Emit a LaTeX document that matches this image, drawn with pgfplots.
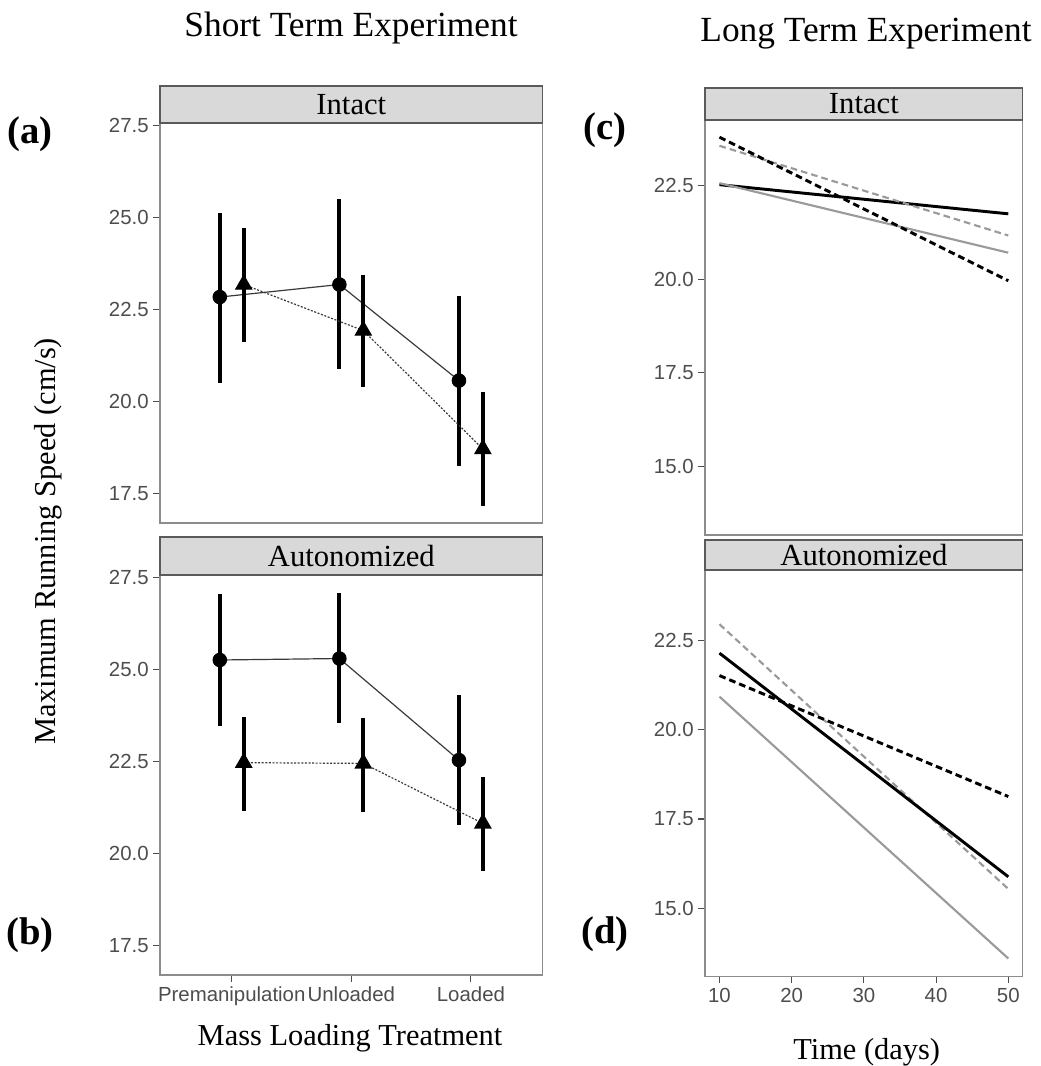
\documentclass[border=0pt]{standalone}
\usepackage{fontspec}
\setmainfont{Liberation Serif}
\newfontfamily\sansf{Liberation Sans}
\usepackage{pgfplots}
\usepackage{pgfplotstable}
\pgfplotsset{compat=1.18}

\definecolor{tickgrey}{HTML}{4D4D4D}
\definecolor{bordergrey}{HTML}{8C8C8C}
\definecolor{stripfill}{HTML}{D9D9D9}
\definecolor{stripline}{HTML}{5A5A5A}
\definecolor{linegrey}{HTML}{9A9A9A}
\definecolor{joingrey}{HTML}{3A3A3A}

% short term: x = dodged category position, y = mean, ep/em = bar above/below
\pgfplotstableread{
x   y     ep   em
0.9 22.83 2.29 2.34
1.9 23.17 2.32 2.29
2.9 20.56 2.29 2.32
}\intactcirc
\pgfplotstableread{
x   y     ep   em
1.1 23.17 1.54 1.57
2.1 21.92 1.52 1.54
3.1 18.70 1.54 1.54
}\intacttri
\pgfplotstableread{
x   y     ep   em
0.9 25.25 1.78 1.79
1.9 25.29 1.77 1.76
2.9 22.53 1.78 1.76
}\autocirc
\pgfplotstableread{
x   y     ep   em
1.1 22.46 1.25 1.31
2.1 22.44 1.23 1.32
3.1 20.81 1.26 1.30
}\autotri

\pgfplotsset{
  panel/.style={
    anchor=south west, scale only axis,
    axis line style={draw=bordergrey, line width=0.8pt},
    major tick style={draw=tickgrey, line width=0.8pt},
    tick align=outside, major tick length=5pt,
    ytick pos=left, xtick pos=bottom,
    tick label style={font=\sansf\fontsize{15.3}{17}\selectfont, text=tickgrey},
    /pgf/number format/assume math mode=true,
    yticklabel style={/pgf/number format/.cd, fixed, fixed zerofill, precision=1},
  },
  shortpanel/.style={panel, width=287pt, height=300pt,
    xmin=0.4, xmax=3.6, ymin=16.69, ymax=27.56,
    ytick={17.5,20,22.5,25,27.5}},
  longpanel/.style={panel, width=238.3pt,
    xmin=8, xmax=52, ytick={15,17.5,20,22.5}},
  circ/.style={joingrey, line width=0.9pt, mark=*, mark size=5pt,
    mark options={solid, fill=black, draw=black},
    error bars/.cd, y dir=both, y explicit, error mark=none,
    error bar style={solid, black, line width=3pt}},
  tri/.style={joingrey, line width=0.9pt, dash pattern=on 1.5pt off 1.2pt,
    mark=triangle*, mark size=6.8pt,
    mark options={solid, fill=black, draw=black},
    error bars/.cd, y dir=both, y explicit, error mark=none,
    error bar style={solid, black, line width=3pt}},
  blk/.style={black, line width=2.2pt},
  gry/.style={linegrey, line width=1.6pt},
  dsh/.style={dash pattern=on 5pt off 3pt},
}

\begin{document}
\begin{tikzpicture}
\path[use as bounding box] (0,0) rectangle (780.75pt,799.5pt);

% (a) short term, intact
\begin{axis}[shortpanel, name=a, at={(120pt,407.25pt)}, xtick=\empty]
\addplot[circ] table[x=x, y=y, y error plus=ep, y error minus=em] {\intactcirc};
\addplot[tri] table[x=x, y=y, y error plus=ep, y error minus=em] {\intacttri};
\end{axis}
\draw[draw=stripline, line width=0.8pt, fill=stripfill] (a.north west) rectangle ([yshift=27.75pt]a.north east);
\node[font=\fontsize{23}{26}\selectfont] at ([yshift=13.9pt]a.north) {Intact};

% (b) short term, autonomized
\begin{axis}[shortpanel, name=b, at={(120pt,68.25pt)},
  xtick={1,2,3}, xticklabels={Premanipulation,Unloaded,Loaded}]
\addplot[circ] table[x=x, y=y, y error plus=ep, y error minus=em] {\autocirc};
\addplot[tri] table[x=x, y=y, y error plus=ep, y error minus=em] {\autotri};
\end{axis}
\draw[draw=stripline, line width=0.8pt, fill=stripfill] (b.north west) rectangle ([yshift=28.5pt]b.north east);
\node[font=\fontsize{23}{26}\selectfont] at ([yshift=14.25pt]b.north) {Autonomized};

% (c) long term, intact
\begin{axis}[longpanel, name=c, at={(528.75pt,398.25pt)}, height=311.25pt,
  ymin=13.16, ymax=24.26, xtick=\empty]
\addplot[blk] coordinates {(10,22.53) (50,21.75)};
\addplot[gry] coordinates {(10,22.57) (50,20.71)};
\addplot[gry, dsh] coordinates {(10,23.57) (50,21.17)};
\addplot[blk, dsh] coordinates {(10,23.80) (50,19.96)};
\end{axis}
\draw[draw=stripline, line width=0.8pt, fill=stripfill] (c.north west) rectangle ([yshift=24pt]c.north east);
\node[font=\fontsize{23}{26}\selectfont] at ([yshift=12pt]c.north) {Intact};

% (d) long term, autonomized
\begin{axis}[longpanel, name=d, at={(528.75pt,67pt)}, height=305pt,
  ymin=13.08, ymax=24.48, xtick={10,20,30,40,50}]
\addplot[gry] coordinates {(10,20.93) (50,13.59)};
\addplot[gry, dsh] coordinates {(10,22.96) (50,15.54)};
\addplot[blk] coordinates {(10,22.15) (50,15.88)};
\addplot[blk, dsh] coordinates {(10,21.52) (50,18.13)};
\end{axis}
\draw[draw=stripline, line width=0.8pt, fill=stripfill] (d.north west) rectangle ([yshift=22.5pt]d.north east);
\node[font=\fontsize{23}{26}\selectfont] at ([yshift=11.25pt]d.north) {Autonomized};

% titles and labels
\node[anchor=base, font=\fontsize{26.5}{30}\selectfont] at (263.25pt,772pt) {Short Term Experiment};
\node[anchor=base, font=\fontsize{26.5}{30}\selectfont] at (649.5pt,768pt) {Long Term Experiment};
\node[rotate=90, font=\fontsize{22.8}{26}\selectfont] at (36pt,393.75pt) {Maximum Running Speed (cm/s)};
\node[anchor=base, font=\fontsize{22.8}{26}\selectfont] at (262.5pt,15.75pt) {Mass Loading Treatment};
\node[anchor=base, font=\fontsize{22.8}{26}\selectfont] at (650pt,5.25pt) {Time (days)};
\node[font=\bfseries\fontsize{29}{33}\selectfont] at (22.5pt,699pt) {(a)};
\node[font=\bfseries\fontsize{29}{33}\selectfont] at (22.5pt,98.25pt) {(b)};
\node[font=\bfseries\fontsize{29}{33}\selectfont] at (453.75pt,702pt) {(c)};
\node[font=\bfseries\fontsize{29}{33}\selectfont] at (453.75pt,99pt) {(d)};
\end{tikzpicture}
\end{document}
